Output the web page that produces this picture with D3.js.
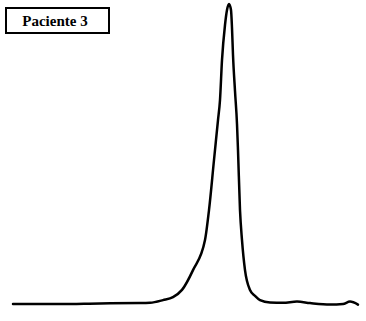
<!DOCTYPE html>
<html>
<head>
<meta charset="utf-8">
<script src="https://cdnjs.cloudflare.com/ajax/libs/d3/7.8.5/d3.min.js"></script>
<style>
  body { margin: 0; background: #fff; }
</style>
</head>
<body>
<svg id="chart" width="366" height="321"></svg>
<script>
// curve: position along the trace / height above baseline (peak = 100)
var xs = [0, 47, 87, 127, 137, 150, 160, 169, 180, 192, 196, 201, 205, 207, 209, 212, 214, 216, 218, 219, 220, 222, 224, 225, 227, 229, 232, 237, 242, 247, 257, 270, 284, 297, 317, 330, 337, 345];
var ys = [0, 0, 0.2, 0.3, 0.4, 1.3, 2.3, 4.7, 11.3, 21.3, 31.3, 48, 61.3, 68, 81.3, 93, 98, 100, 98, 92, 83, 71, 60, 51.3, 31.3, 21.3, 11.3, 4.7, 2.7, 1.3, 0.5, 0.4, 0.8, 0.3, -0.2, 0, 0.8, -0.2];
var label = "Paciente 3";

var svg = d3.select("#chart"),
    margin = { left: 13, right: 8, top: 4, bottom: 17 },
    width = +svg.attr("width"),
    height = +svg.attr("height");

var x = d3.scaleLinear().domain([0, 345]).range([margin.left, width - margin.right]);
var y = d3.scaleLinear().domain([0, 100]).range([height - margin.bottom, margin.top]);

var data = xs.map(function (d, i) { return [d, ys[i]]; });

var line = d3.line()
    .x(function (d) { return x(d[0]); })
    .y(function (d) { return y(d[1]); })
    .curve(d3.curveMonotoneX);

svg.append("path")
    .datum(data)
    .attr("fill", "none")
    .attr("stroke", "#000")
    .attr("stroke-width", 2.5)
    .attr("stroke-linejoin", "round")
    .attr("stroke-linecap", "round")
    .attr("d", line);

// label box, top left
var g = svg.append("g");
g.append("rect")
    .attr("x", 6)
    .attr("y", 8)
    .attr("width", 103)
    .attr("height", 25)
    .attr("fill", "#fff")
    .attr("stroke", "#000")
    .attr("stroke-width", 2);

g.append("text")
    .attr("x", 55)
    .attr("y", 21)
    .attr("dy", "0.35em")
    .attr("text-anchor", "middle")
    .attr("font-family", "'Liberation Serif', 'DejaVu Serif', serif")
    .attr("font-weight", "bold")
    .attr("font-size", 15)
    .text(label);
</script>
</body>
</html>
